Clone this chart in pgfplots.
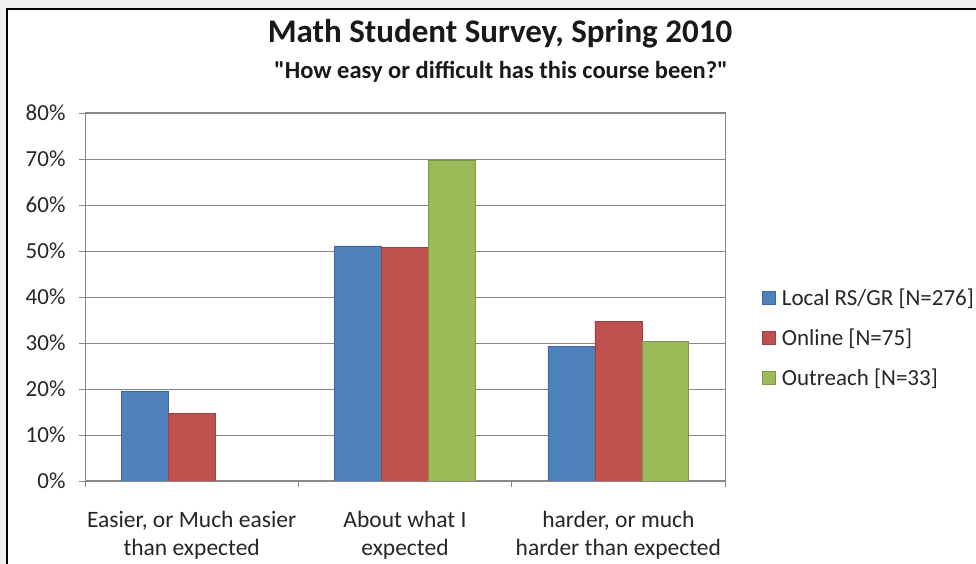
\documentclass[border=0pt]{standalone}
\usepackage{pgfplots}
\pgfplotsset{compat=1.18}
\usepackage{fontspec}
\setmainfont{Carlito}
\newfontfamily\qfont{Carlito}[Ligatures=TeXOff]
\definecolor{cblue}{HTML}{4F81BD}
\definecolor{cred}{HTML}{C0504D}
\definecolor{cgreen}{HTML}{9BBB59}
\definecolor{gridc}{HTML}{888888}
\begin{document}
\begin{tikzpicture}[x=1pt,y=1pt]
\path[use as bounding box] (0,0) rectangle (976,564);
\fill[black!6] (0,0) rectangle (976,564);
\fill[white] (7,0) rectangle (976,554.5);
\draw[black, line width=2pt] (6.5,0) -- (6.5,554.5) -- (976,554.5);
\node[font=\bfseries\fontsize{33}{36}\selectfont, text=black!90] at (500,530) {Math Student Survey, Spring 2010};
\node[font=\qfont\bfseries\fontsize{24.5}{28}\selectfont, text=black!90] at (501,492) {"How easy or difficult has this course been?"};
\begin{axis}[
  at={(85pt,83pt)}, anchor=south west,
  scale only axis, width=640pt, height=368pt,
  xmin=-0.5, xmax=2.5, ymin=0, ymax=80,
  ybar=0pt, bar width=0.22,
  xtick={0,1,2},
  xticklabels={{Easier, or Much easier\\than expected},{About what I\\expected},{harder, or much\\harder than expected}},
  xticklabel style={align=center, font=\fontsize{23.5}{28}\selectfont, text=black!85, yshift=-21pt},
  major x tick style={draw=none},
  extra x ticks={-0.5,0.5,1.5,2.5},
  extra x tick labels={},
  extra x tick style={major x tick style={draw=gridc, line width=0.8pt}, grid=none},
  ytick={0,10,...,80},
  yticklabels={0\%,10\%,20\%,30\%,40\%,50\%,60\%,70\%,80\%},
  yticklabel style={font=\fontsize{23}{26}\selectfont, text=black!85, xshift=-10pt},
  ymajorgrids, grid style={draw=gridc, line width=0.8pt},
  major y tick style={draw=gridc, line width=0.8pt},
  tick align=outside, major tick length=6pt,
  xtick pos=bottom, ytick pos=left,
  axis line style={draw=gridc, line width=1pt},
  legend style={at={(1.058,0.389)}, anchor=west, draw=none, fill=none,
    font=\fontsize{23}{26}\selectfont, text=black!85,
    row sep=18pt, inner sep=0pt, cells={anchor=west}},
  legend image code/.code={\draw[#1, line width=0.6pt] (0pt,-6.5pt) rectangle (13pt,6.5pt);},
  legend cell align=left,
]
\addplot[fill=cblue, draw=cblue!80!black, line width=0.6pt] coordinates {(0,19.6) (1,51.1) (2,29.3)};
\addplot[fill=cred, draw=cred!80!black, line width=0.6pt] coordinates {(0,14.7) (1,50.7) (2,34.7)};
\addplot[fill=cgreen, draw=cgreen!80!black, line width=0.6pt] coordinates {(1,69.7) (2,30.3)};
\legend{\hspace{4pt}Local RS/GR [N=276], \hspace{4pt}Online [N=75], \hspace{4pt}Outreach [N=33]}
\end{axis}
\end{tikzpicture}
\end{document}
